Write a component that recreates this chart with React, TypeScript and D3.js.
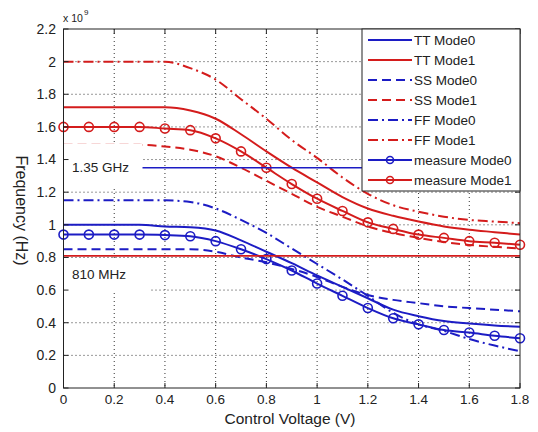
import React from 'react';
import * as d3 from 'd3';

// control voltage samples (V)
const volts = [0, 0.1, 0.2, 0.3, 0.4, 0.5, 0.6, 0.7, 0.8, 0.9, 1.0, 1.1, 1.2, 1.3, 1.4, 1.5, 1.6, 1.7, 1.8];

// frequencies, x 10^9 Hz
const ttMode0 = [1.0, 1.0, 1.0, 1.0, 0.99, 0.985, 0.965, 0.905, 0.835, 0.765, 0.69, 0.62, 0.55, 0.48, 0.44, 0.41, 0.395, 0.383, 0.375];
const ttMode1 = [1.72, 1.72, 1.72, 1.72, 1.72, 1.7, 1.65, 1.555, 1.45, 1.35, 1.26, 1.17, 1.1, 1.055, 1.02, 0.99, 0.97, 0.955, 0.94];
const ssMode0 = [0.85, 0.85, 0.85, 0.85, 0.85, 0.85, 0.835, 0.8, 0.77, 0.73, 0.68, 0.62, 0.57, 0.54, 0.52, 0.5, 0.49, 0.48, 0.47];
const ssMode1 = [1.49, 1.49, 1.49, 1.49, 1.48, 1.46, 1.42, 1.35, 1.27, 1.19, 1.11, 1.05, 0.99, 0.95, 0.92, 0.895, 0.877, 0.865, 0.855];
const ffMode0 = [1.15, 1.15, 1.15, 1.15, 1.15, 1.14, 1.1, 1.03, 0.95, 0.855, 0.76, 0.665, 0.565, 0.46, 0.39, 0.35, 0.3, 0.26, 0.225];
const ffMode1 = [2.0, 2.0, 2.0, 2.0, 2.0, 1.96, 1.89, 1.77, 1.65, 1.52, 1.41, 1.29, 1.19, 1.12, 1.08, 1.05, 1.03, 1.02, 1.01];
const measMode0 = [0.94, 0.94, 0.94, 0.94, 0.937, 0.93, 0.9, 0.85, 0.79, 0.72, 0.64, 0.565, 0.49, 0.427, 0.39, 0.355, 0.34, 0.32, 0.305];
const measMode1 = [1.6, 1.6, 1.6, 1.6, 1.59, 1.58, 1.53, 1.45, 1.35, 1.25, 1.16, 1.085, 1.015, 0.975, 0.94, 0.92, 0.9, 0.89, 0.878];

// reference levels
const refHigh = 1.35;
const refLow = 0.81;

const xTicks = [0, 0.2, 0.4, 0.6, 0.8, 1, 1.2, 1.4, 1.6, 1.8];
const yTicks = [0, 0.2, 0.4, 0.6, 0.8, 1, 1.2, 1.4, 1.6, 1.8, 2, 2.2];

const BLUE = '#1c1cc4';
const RED = '#d41c1c';
const FONT = 'Liberation Sans, Arial, sans-serif';

const series = [
  { name: 'TT Mode0', values: ttMode0, color: BLUE, dash: null, marker: false },
  { name: 'TT Mode1', values: ttMode1, color: RED, dash: null, marker: false },
  { name: 'SS Mode0', values: ssMode0, color: BLUE, dash: '9,5', marker: false },
  { name: 'SS Mode1', values: ssMode1, color: RED, dash: '9,5', marker: false },
  { name: 'FF Mode0', values: ffMode0, color: BLUE, dash: '10,4,2,4', marker: false },
  { name: 'FF Mode1', values: ffMode1, color: RED, dash: '10,4,2,4', marker: false },
  { name: 'measure Mode0', values: measMode0, color: BLUE, dash: null, marker: true },
  { name: 'measure Mode1', values: measMode1, color: RED, dash: null, marker: true },
];

const App = () => {
  const left = 63.5;
  const right = 520;
  const top = 29;
  const bottom = 388;

  const x = d3.scaleLinear().domain([0, 1.8]).range([left, right]);
  const y = d3.scaleLinear().domain([0, 2.2]).range([bottom, top]);

  const line = d3
    .line<number>()
    .x((d, i) => x(volts[i]))
    .y(d => y(d))
    .curve(d3.curveMonotoneX);

  const legX = 362;
  const legY = 29;
  const legW = 158;
  const legH = 162;

  return (
    <svg width={538} height={432} style={{ position: 'absolute', left: 0, top: 0, background: '#fff' }}>
      <rect x={0} y={0} width={538} height={432} fill="#fff" />

      {/* Grid */}
      {xTicks.slice(1, -1).map(t => (
        <line key={'gx' + t} x1={x(t)} x2={x(t)} y1={top} y2={bottom} stroke="#333" strokeWidth={1} strokeDasharray="1,3" />
      ))}
      {yTicks.slice(1, -1).map(t => (
        <line key={'gy' + t} x1={left} x2={right} y1={y(t)} y2={y(t)} stroke="#333" strokeWidth={1} strokeDasharray="1,3" />
      ))}

      {/* Curves */}
      {series.map(s => (
        <path
          key={s.name}
          d={line(s.values) || ''}
          fill="none"
          stroke={s.color}
          strokeWidth={2}
          strokeDasharray={s.dash || undefined}
        />
      ))}
      {series
        .filter(s => s.marker)
        .map(s =>
          s.values.map((v, i) => (
            <circle key={s.name + i} cx={x(volts[i])} cy={y(v)} r={4.5} fill="none" stroke={s.color} strokeWidth={1.6} />
          ))
        )}

      {/* Reference lines */}
      <line x1={x(0)} x2={x(1.8)} y1={y(refHigh)} y2={y(refHigh)} stroke={BLUE} strokeWidth={1.6} />
      <line x1={x(0)} x2={x(1.8)} y1={y(refLow)} y2={y(refLow)} stroke={RED} strokeWidth={1.8} />

      {/* Reference labels */}
      <rect x={left} y={y(refHigh) - 24} width={79} height={44} fill="#fff" />
      <text x={72} y={y(refHigh)} dy="0.35em" fontFamily={FONT} fontSize={13.5} fill="#222">
        1.35 GHz
      </text>
      <rect x={left} y={y(refLow) + 4} width={86} height={33} fill="#fff" />
      <text x={72} y={y(refLow) + 18} dy="0.35em" fontFamily={FONT} fontSize={13.5} fill="#222">
        810 MHz
      </text>

      {/* Frame and ticks */}
      <rect x={left} y={top} width={right - left} height={bottom - top} fill="none" stroke="#222" strokeWidth={1} />
      {xTicks.map(t => (
        <g key={'tx' + t}>
          <line x1={x(t)} x2={x(t)} y1={bottom} y2={bottom - 5} stroke="#222" />
          <line x1={x(t)} x2={x(t)} y1={top} y2={top + 5} stroke="#222" />
          <text x={x(t)} y={404} textAnchor="middle" fontFamily={FONT} fontSize={13.5} fill="#222">
            {t}
          </text>
        </g>
      ))}
      {yTicks.map(t => (
        <g key={'ty' + t}>
          <line x1={left} x2={left + 5} y1={y(t)} y2={y(t)} stroke="#222" />
          <line x1={right} x2={right - 5} y1={y(t)} y2={y(t)} stroke="#222" />
          <text x={56} y={y(t)} dy="0.35em" textAnchor="end" fontFamily={FONT} fontSize={14} fill="#222">
            {t}
          </text>
        </g>
      ))}

      {/* Exponent */}
      <text x={63} y={22} fontFamily={FONT} fontSize={10.5} fill="#222">
        x 10
      </text>
      <text x={84} y={15} fontFamily={FONT} fontSize={8} fill="#222">
        9
      </text>

      {/* Axis labels */}
      <text x={290} y={424} textAnchor="middle" fontFamily={FONT} fontSize={15.5} fill="#222">
        Control Voltage (V)
      </text>
      <text
        transform={`translate(22, ${(top + bottom) / 2 + 2}) rotate(90)`}
        textAnchor="middle"
        dy="0.35em"
        fontFamily={FONT}
        fontSize={16}
        fill="#222"
      >
        Frequency (Hz)
      </text>

      {/* Legend */}
      <rect x={legX} y={legY} width={legW} height={legH} fill="#fff" stroke="#222" strokeWidth={1} />
      {series.map((s, i) => {
        const ly = legY + 11 + i * 20;
        return (
          <g key={'leg' + s.name}>
            <line x1={368} x2={412} y1={ly} y2={ly} stroke={s.color} strokeWidth={2} strokeDasharray={s.dash || undefined} />
            {s.marker && <circle cx={390} cy={ly} r={3.5} fill="none" stroke={s.color} strokeWidth={1.6} />}
            <text x={414} y={ly} dy="0.35em" fontFamily={FONT} fontSize={13.5} fill="#222">
              {s.name}
            </text>
          </g>
        );
      })}
    </svg>
  );
};

export default App;
